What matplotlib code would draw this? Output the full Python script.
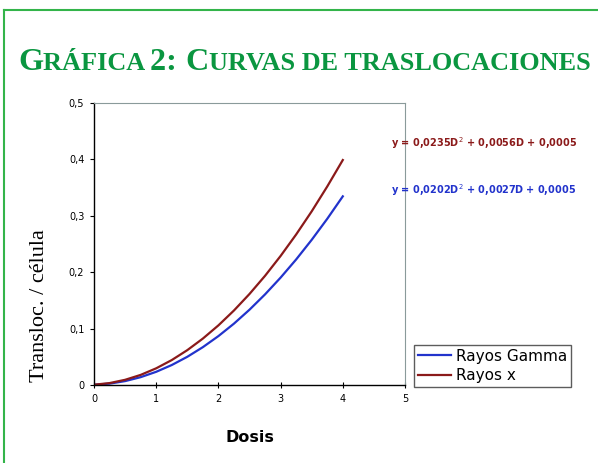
import numpy as np
import matplotlib
matplotlib.use("Agg")
import matplotlib.pyplot as plt
from matplotlib.lines import Line2D

# dose values (Gy) and translocations per cell
dosis = [0, 0.25, 0.5, 0.75, 1, 1.25, 1.5, 1.75, 2, 2.25, 2.5, 2.75, 3, 3.25, 3.5, 3.75, 4]
gamma = [0.0005, 0.0024, 0.0069, 0.0139, 0.0234, 0.0354, 0.0500, 0.0671, 0.0867,
         0.1088, 0.1335, 0.1607, 0.1904, 0.2226, 0.2574, 0.2947, 0.3345]
rayos_x = [0.0005, 0.0034, 0.0092, 0.0179, 0.0296, 0.0442, 0.0618, 0.0823, 0.1057,
           0.1321, 0.1614, 0.1936, 0.2288, 0.2669, 0.3079, 0.3520, 0.3989]

xticks = [0, 1, 2, 3, 4, 5]
yticks = [0, 0.1, 0.2, 0.3, 0.4, 0.5]
ytick_labels = ["0", "0,1", "0,2", "0,3", "0,4", "0,5"]

eq_x = "y = 0,0235D$^2$ + 0,0056D + 0,0005"
eq_gamma = "y = 0,0202D$^2$ + 0,0027D + 0,0005"

col_gamma = "#2233cc"
col_x = "#8b1a1a"
verde = "#0a9640"

W, H = 598, 463
fig = plt.figure(figsize=(W/100, H/100), dpi=100)

# green frame
fig.add_artist(Line2D([4/W, 1], [1-10/H, 1-10/H], color="#33b44a", lw=1.5))
fig.add_artist(Line2D([4/W, 4/W], [0, 1-10/H], color="#33b44a", lw=1.5))

ax = fig.add_axes([94/W, 1-385/H, (405-94)/W, (385-103)/H])
ax.plot(dosis, gamma, color=col_gamma, lw=1.6, label="Rayos Gamma")
ax.plot(dosis, rayos_x, color=col_x, lw=1.6, label="Rayos x")

ax.set_xlim(0, 5)
ax.set_ylim(0, 0.5)
ax.set_xticks(xticks)
ax.set_xticklabels([str(t) for t in xticks], fontsize=7)
ax.set_yticks(yticks)
ax.set_yticklabels(ytick_labels, fontsize=7)
ax.tick_params(axis="x", direction="inout", length=5, width=0.8, pad=4)
ax.tick_params(axis="y", direction="out", length=3, width=0.8, pad=4)
for s in ["top", "right"]:
    ax.spines[s].set_color("#8a9a9a")
    ax.spines[s].set_linewidth(0.8)
for s in ["left", "bottom"]:
    ax.spines[s].set_color("black")
    ax.spines[s].set_linewidth(1.0)

ax.legend(loc="upper left", bbox_to_anchor=(414/W, 1-345/H), bbox_transform=fig.transFigure,
          fontsize=11, frameon=True, fancybox=False, edgecolor="#333333",
          handlelength=2.2, handletextpad=0.3, borderpad=0.25, labelspacing=0.3,
          borderaxespad=0)

fig.text(391/W, 1-143/H, eq_x, color=col_x, fontsize=7, fontweight="bold", va="center")
fig.text(391/W, 1-190/H, eq_gamma, color=col_gamma, fontsize=7, fontweight="bold", va="center")

fig.text(250/W, 1-437/H, "Dosis", fontsize=11.5, fontweight="bold", ha="center", va="center")
fig.text(40/W, 1-306/H, "Transloc. / célula", family="Liberation Serif", fontsize=16,
         rotation=90, ha="center", va="center")

# title in small caps: big initials + smaller rest, scaled to fit the frame width
partes = [("G", 30), ("RÁFICA ", 24.5), ("2: ", 30), ("C", 30), ("URVAS DE TRASLOCACIONES", 24.5)]
r = fig.canvas.get_renderer()
def poner_titulo(escala):
    x0 = 18
    textos = []
    for txt, fs in partes:
        t = fig.text(x0/W, 1-70/H, txt, color=verde, fontsize=fs*escala, fontweight="bold",
                     family="Liberation Serif", va="baseline", ha="left")
        x0 += t.get_window_extent(renderer=r).width
        textos.append(t)
    return textos, x0 - 18

textos, ancho = poner_titulo(1.0)
for t in textos:
    t.remove()
poner_titulo(572/ancho)

fig.savefig("out.png", dpi=100)
